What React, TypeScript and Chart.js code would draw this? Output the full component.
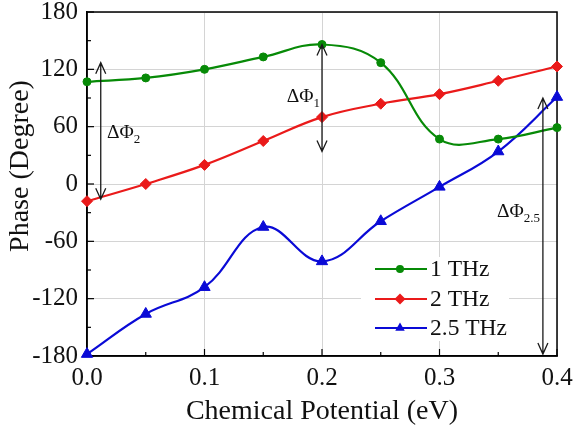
import React, { useEffect, useRef } from "react";
import { Chart, registerables } from "chart.js";

Chart.register(...registerables);

// Chemical potential (eV)
const potentials = [0.0, 0.05, 0.1, 0.15, 0.2, 0.25, 0.3, 0.35, 0.4];

// Phase (degree) for each frequency
const phase1THz = [107, 111, 120, 133, 146, 127, 47, 47, 59];
const phase2THz = [-18, 0, 20, 45, 70, 84, 94, 108, 123];
const phase25THz = [-178, -136, -108, -45, -81, -39, -3, 34, 91];

const seriesLabels = ["1 THz", "2 THz", "2.5 THz"];
const seriesColors = ["#078a07", "#ea1a1a", "#0a0ad6"];
const seriesMarkers = ["circle", "rectRot", "triangle"];

// Phase-difference arrows: x position, upper and lower ends, label and subscript
const arrowX = [0.2, 0.0117, 0.388];
const arrowTop = [146, 127, 90];
const arrowBottom = [34, -16, -178];
const arrowLabel = ["ΔΦ", "ΔΦ", "ΔΦ"];
const arrowSub = ["1", "2", "2.5"];
const labelX = [0.17, 0.017, 0.349];
const labelY = [86, 48, -34.5];

const SERIF = "'Liberation Serif', 'Times New Roman', serif";

function drawMarker(ctx: CanvasRenderingContext2D, kind: string, x: number, y: number, r: number) {
  ctx.beginPath();
  if (kind === "circle") {
    ctx.arc(x, y, r, 0, Math.PI * 2);
  } else if (kind === "rectRot") {
    ctx.moveTo(x - r, y);
    ctx.lineTo(x, y - r);
    ctx.lineTo(x + r, y);
    ctx.lineTo(x, y + r);
    ctx.closePath();
  } else {
    ctx.moveTo(x, y - r);
    ctx.lineTo(x + r * Math.sin((2 * Math.PI) / 3), y - r * Math.cos((2 * Math.PI) / 3));
    ctx.lineTo(x + r * Math.sin((4 * Math.PI) / 3), y - r * Math.cos((4 * Math.PI) / 3));
    ctx.closePath();
  }
  ctx.fill();
}

const framePlugin = {
  id: "frameAndTicks",
  beforeDatasetsDraw(chart: any) {
    const { ctx, chartArea } = chart;
    const xs = chart.scales.x;
    const ys = chart.scales.y;
    ctx.save();
    ctx.strokeStyle = "#000";
    ctx.lineWidth = 1.2;
    // inward ticks on the bottom axis
    for (let v = 0; v <= 0.4001; v += 0.05) {
      const px = xs.getPixelForValue(v);
      const major = Math.abs(v * 10 - Math.round(v * 10)) < 1e-6;
      ctx.beginPath();
      ctx.moveTo(px, chartArea.bottom);
      ctx.lineTo(px, chartArea.bottom - (major ? 7 : 4));
      ctx.stroke();
    }
    // inward ticks on the left axis
    for (let v = -180; v <= 180; v += 30) {
      const py = ys.getPixelForValue(v);
      const major = v % 60 === 0;
      ctx.beginPath();
      ctx.moveTo(chartArea.left, py);
      ctx.lineTo(chartArea.left + (major ? 7 : 4), py);
      ctx.stroke();
    }
    ctx.lineWidth = 1.5;
    ctx.strokeRect(chartArea.left, chartArea.top, chartArea.right - chartArea.left, chartArea.bottom - chartArea.top);
    ctx.restore();
  },
  afterDatasetsDraw(chart: any) {
    const { ctx, chartArea } = chart;
    const xs = chart.scales.x;
    const ys = chart.scales.y;
    ctx.save();

    // phase-difference arrows
    ctx.strokeStyle = "#1a1a1a";
    ctx.lineWidth = 1.3;
    for (let i = 0; i < arrowX.length; i++) {
      const px = xs.getPixelForValue(arrowX[i]);
      const t = ys.getPixelForValue(arrowTop[i]);
      const b = ys.getPixelForValue(arrowBottom[i]);
      ctx.beginPath();
      ctx.moveTo(px, t);
      ctx.lineTo(px, b);
      ctx.moveTo(px - 5, t + 11);
      ctx.lineTo(px, t);
      ctx.lineTo(px + 5, t + 11);
      ctx.moveTo(px - 5, b - 11);
      ctx.lineTo(px, b);
      ctx.lineTo(px + 5, b - 11);
      ctx.stroke();
    }
    ctx.fillStyle = "#111";
    ctx.textBaseline = "alphabetic";
    ctx.textAlign = "left";
    for (let i = 0; i < arrowLabel.length; i++) {
      const px = xs.getPixelForValue(labelX[i]);
      const py = ys.getPixelForValue(labelY[i]);
      ctx.font = `19.5px ${SERIF}`;
      ctx.fillText(arrowLabel[i], px, py);
      const w = ctx.measureText(arrowLabel[i]).width;
      ctx.font = `13px ${SERIF}`;
      ctx.fillText(arrowSub[i], px + w, py + 5);
    }

    // legend
    const lx = chartArea.left + 274;
    const ly = chartArea.top + 245;
    ctx.fillStyle = "#fff";
    ctx.fillRect(lx, ly, 148, 84);
    for (let i = 0; i < seriesLabels.length; i++) {
      const ry = chartArea.top + [257, 287, 316][i];
      ctx.strokeStyle = seriesColors[i];
      ctx.fillStyle = seriesColors[i];
      ctx.lineWidth = 2.2;
      ctx.beginPath();
      ctx.moveTo(chartArea.left + 288, ry);
      ctx.lineTo(chartArea.left + 340, ry);
      ctx.stroke();
      drawMarker(ctx, seriesMarkers[i], chartArea.left + 313, ry, i === 0 ? 4 : 5.5);
      ctx.fillStyle = "#111";
      ctx.font = `23.5px ${SERIF}`;
      ctx.textBaseline = "middle";
      ctx.fillText(seriesLabels[i], chartArea.left + 343, ry + 1);
    }

    // y-axis title
    ctx.save();
    ctx.translate(21, 166);
    ctx.rotate(-Math.PI / 2);
    ctx.textAlign = "center";
    ctx.textBaseline = "middle";
    ctx.fillStyle = "#111";
    ctx.font = `28px ${SERIF}`;
    ctx.fillText("Phase (Degree)", 0, 0);
    ctx.restore();

    ctx.restore();
  },
};

export default function App() {
  const canvasRef = useRef<HTMLCanvasElement | null>(null);

  useEffect(() => {
    document.body.style.margin = "0";
    const canvas = canvasRef.current;
    if (!canvas) return;

    const makeSet = (label: string, values: number[], i: number, radius: number) => ({
      label,
      data: potentials.map((x, k) => ({ x, y: values[k] })),
      borderColor: seriesColors[i],
      backgroundColor: seriesColors[i],
      pointBackgroundColor: seriesColors[i],
      pointBorderColor: seriesColors[i],
      pointStyle: seriesMarkers[i],
      pointRadius: radius,
      pointBorderWidth: 1,
      borderWidth: 2.2,
      tension: 0.4,
      clip: false as any,
    });

    const chart = new Chart(canvas, {
      type: "line",
      data: {
        datasets: [
          makeSet(seriesLabels[0], phase1THz, 0, 4),
          makeSet(seriesLabels[1], phase2THz, 1, 5.5),
          makeSet(seriesLabels[2], phase25THz, 2, 6.5),
        ],
      },
      options: {
        responsive: false,
        animation: false,
        layout: { padding: { top: 12, right: 17, left: 0, bottom: 0 } },
        plugins: {
          legend: { display: false },
          tooltip: { enabled: false },
        },
        scales: {
          x: {
            type: "linear",
            min: 0,
            max: 0.4,
            afterFit: (s: any) => {
              s.height = 74;
              s.paddingLeft = 0;
              s.paddingRight = 0;
            },
            ticks: {
              stepSize: 0.1,
              color: "#111",
              padding: 7,
              font: { family: SERIF, size: 25 },
              callback: (v: any) => Number(v).toFixed(1),
            },
            grid: { color: "#d4d4d4", lineWidth: 1, drawTicks: false },
            border: { display: true, color: "#000", width: 1.5 },
            title: {
              display: true,
              text: "Chemical Potential (eV)",
              color: "#111",
              font: { family: SERIF, size: 28 },
              padding: { top: 0, bottom: 2 },
            },
          },
          y: {
            type: "linear",
            min: -180,
            max: 180,
            afterFit: (s: any) => {
              s.width = 87;
              s.paddingTop = 0;
              s.paddingBottom = 0;
            },
            ticks: {
              stepSize: 60,
              color: "#111",
              padding: 9,
              font: { family: SERIF, size: 25 },
            },
            grid: { color: "#d4d4d4", lineWidth: 1, drawTicks: false },
            border: { display: true, color: "#000", width: 1.5 },
          },
        },
      },
      plugins: [framePlugin],
    });

    return () => chart.destroy();
  }, []);

  return (
    <div style={{ position: "absolute", left: 0, top: 0, width: 574, height: 430, background: "#fff" }}>
      <canvas ref={canvasRef} width={574} height={430} />
    </div>
  );
}
